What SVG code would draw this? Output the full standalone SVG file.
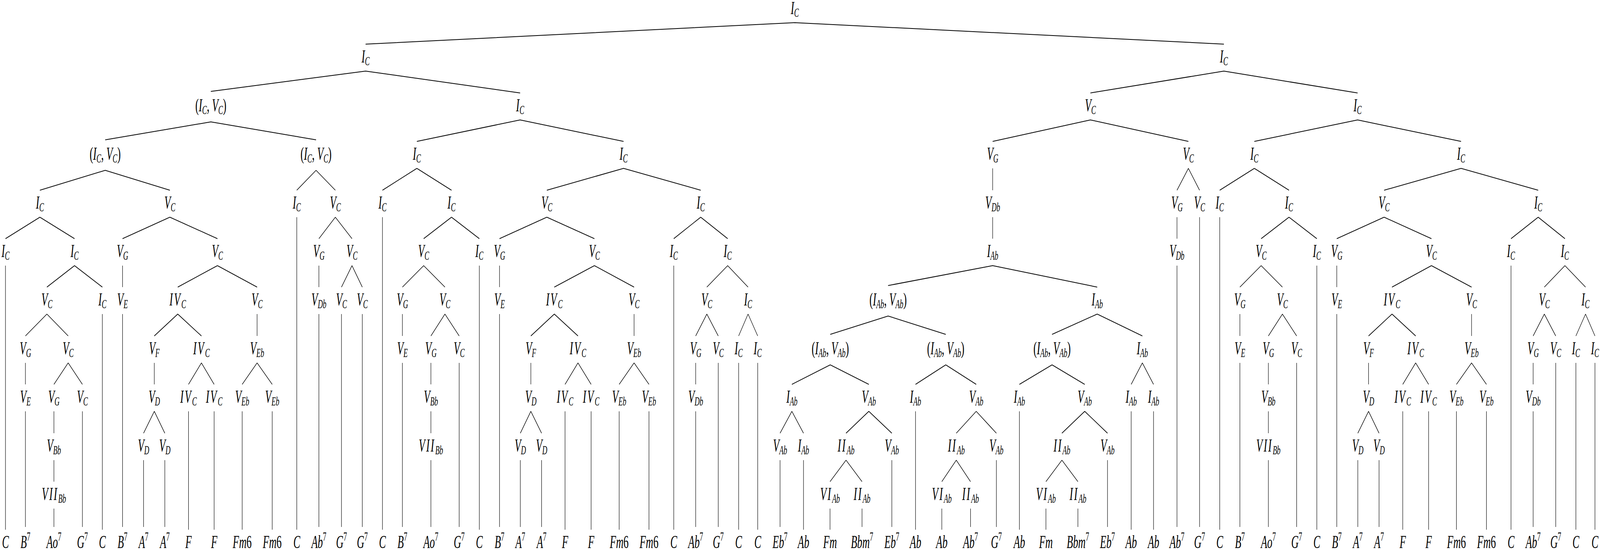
<svg xmlns="http://www.w3.org/2000/svg" width="7300" height="1408" viewBox="0 0 7300 1408" preserveAspectRatio="none" style="width:100vw;height:100vh">
<style>
text{font-family:"Liberation Serif","Times New Roman",serif;font-style:italic;font-size:47px;text-anchor:middle;fill:#000}
.s{font-size:32px}
.u{font-style:normal}
.p{font-size:32px;font-style:normal}
.r{letter-spacing:5px}
#edges path{stroke:#000;stroke-width:2;fill:none}
</style>
<rect width="7300" height="1408" fill="#fff"/>
<g id="edges">
<path d="M3626 58L1668 113M3626 58L5584 113"/>
<path d="M1668 182L962 234M1668 182L2373 238"/>
<path d="M962 312L480 358M962 312L1442 358"/>
<path d="M480 436L182 487M480 436L775 487"/>
<path d="M182 556L25 611M182 556L340 611M25 680L25 1356"/>
<path d="M340 680L214 735M340 680L467 735M467 804L467 1356"/>
<path d="M214 804L116 860M214 804L311 860M116 929L116 984M116 1053L116 1349"/>
<path d="M311 929L246 984M311 929L376 984M246 1053L246 1109M246 1178L246 1233M246 1302L246 1349M376 1053L376 1349"/>
<path d="M775 556L559 611M775 556L992 611M559 680L559 735M559 804L559 1349"/>
<path d="M992 680L811 735M992 680L1173 735M811 804L704 860M811 804L919 860M704 929L704 984M704 1053L655 1109M704 1053L752 1109M655 1178L655 1349M752 1178L752 1349"/>
<path d="M919 929L860 984M919 929L977 984M860 1053L860 1356M977 1053L977 1356"/>
<path d="M1173 804L1173 860M1173 929L1105 984M1173 929L1242 984M1105 1053L1105 1356M1242 1053L1242 1356"/>
<path d="M1442 436L1354 487M1442 436L1530 487M1354 556L1354 1356M1530 556L1455 611M1530 556L1606 611M1455 680L1455 735M1455 804L1455 1349M1606 680L1558 735M1606 680L1653 735M1558 804L1558 1349M1653 804L1653 1349"/>
<path d="M2373 307L1902 362M2373 307L2845 362M1902 431L1745 487M1902 431L2060 487M1745 556L1745 1356M2060 556L1933 611M2060 556L2187 611M2187 680L2187 1356"/>
<path d="M1933 680L1836 735M1933 680L2030 735M1836 804L1836 860M1836 929L1836 1349M2030 804L1966 860M2030 804L2095 860M1966 929L1966 984M1966 1053L1966 1109M1966 1178L1966 1349M2095 929L2095 1349"/>
<path d="M2845 431L2495 487M2845 431L3197 487M2495 556L2279 611M2495 556L2712 611M2279 680L2279 735M2279 804L2279 1349M2712 680L2529 735M2712 680L2893 735"/>
<path d="M2529 804L2422 860M2529 804L2637 860M2422 929L2422 984M2422 1053L2374 1109M2422 1053L2471 1109M2374 1178L2374 1349M2471 1178L2471 1349M2637 929L2578 984M2637 929L2697 984M2578 1053L2578 1356M2697 1053L2697 1356"/>
<path d="M2893 804L2893 860M2893 929L2825 984M2893 929L2961 984M2825 1053L2825 1356M2961 1053L2961 1356"/>
<path d="M3197 556L3074 611M3197 556L3320 611M3074 680L3074 1356M3320 680L3225 735M3320 680L3413 735M3225 804L3174 860M3225 804L3277 860M3174 929L3174 984M3174 1053L3174 1349M3277 929L3277 1349M3413 804L3370 860M3413 804L3457 860M3370 929L3370 1356M3457 929L3457 1356"/>
<path d="M5584 182L4975 238M5584 182L6194 238M4975 307L4529 362M4975 307L5422 362M4529 431L4529 487M4529 556L4529 611M4529 680L4052 731M4529 680L5006 735"/>
<path d="M4052 809L3788 856M4052 809L4315 856M3788 934L3613 984M3788 934L3964 984M3613 1053L3559 1109M3613 1053L3666 1109M3559 1178L3559 1349M3666 1178L3666 1356"/>
<path d="M3964 1053L3860 1109M3964 1053L4069 1109M3860 1178L3787 1233M3860 1178L3933 1233M3787 1302L3787 1356M3933 1302L3933 1349M4069 1178L4069 1349"/>
<path d="M4315 934L4177 984M4315 934L4454 984M4177 1053L4177 1356M4454 1053L4363 1109M4454 1053L4546 1109M4363 1178L4297 1233M4363 1178L4428 1233M4297 1302L4297 1356M4428 1302L4428 1349M4546 1178L4546 1349"/>
<path d="M5006 804L4800 856M5006 804L5212 860M4800 934L4651 984M4800 934L4949 984M4651 1053L4651 1356M4949 1053L4845 1109M4949 1053L5053 1109M4845 1178L4772 1233M4845 1178L4918 1233M4772 1302L4772 1356M4918 1302L4918 1349M5053 1178L5053 1349"/>
<path d="M5212 929L5161 984M5212 929L5263 984M5161 1053L5161 1356M5263 1053L5263 1356"/>
<path d="M5422 431L5370 487M5422 431L5473 487M5370 556L5370 611M5370 680L5370 1349M5473 556L5473 1349"/>
<path d="M6194 307L5723 362M6194 307L6666 362M5723 431L5565 487M5723 431L5881 487M5565 556L5565 1356M5881 556L5754 611M5881 556L6008 611M6008 680L6008 1356"/>
<path d="M5754 680L5657 735M5754 680L5851 735M5657 804L5657 860M5657 929L5657 1349M5851 804L5787 860M5851 804L5916 860M5787 929L5787 984M5787 1053L5787 1109M5787 1178L5787 1349M5916 929L5916 1349"/>
<path d="M6666 431L6315 487M6666 431L7018 487M6315 556L6099 611M6315 556L6531 611M6099 680L6099 735M6099 804L6099 1349M6531 680L6351 735M6531 680L6714 735"/>
<path d="M6351 804L6244 860M6351 804L6459 860M6244 929L6244 984M6244 1053L6195 1109M6244 1053L6292 1109M6195 1178L6195 1349M6292 1178L6292 1349M6459 929L6400 984M6459 929L6518 984M6400 1053L6400 1356M6518 1053L6518 1356"/>
<path d="M6714 804L6714 860M6714 929L6645 984M6714 929L6782 984M6645 1053L6645 1356M6782 1053L6782 1356"/>
<path d="M7018 556L6894 611M7018 556L7140 611M6894 680L6894 1356M7140 680L7046 735M7140 680L7234 735M7046 804L6995 860M7046 804L7098 860M6995 929L6995 984M6995 1053L6995 1349M7098 929L7098 1349M7234 804L7190 860M7234 804L7277 860M7190 929L7190 1356M7277 929L7277 1356"/>
</g>
<g id="n0"><text x="3626" y="36">I<tspan class="s" dy="7">C</tspan></text></g>
<g id="n1"><text x="1668" y="160">I<tspan class="s" dy="7">C</tspan></text></g>
<g id="n2"><text x="5584" y="160">I<tspan class="s" dy="7">C</tspan></text></g>
<g id="n3"><text x="962" y="285"><tspan class="u">(</tspan>I<tspan class="s" dy="7">C</tspan><tspan class="u" dy="-7">, </tspan>V<tspan class="s" dy="7">C</tspan><tspan class="u" dy="-7">)</tspan></text></g>
<g id="n4"><text x="2373" y="285">I<tspan class="s" dy="7">C</tspan></text></g>
<g id="n5"><text x="480" y="409"><tspan class="u">(</tspan>I<tspan class="s" dy="7">C</tspan><tspan class="u" dy="-7">, </tspan>V<tspan class="s" dy="7">C</tspan><tspan class="u" dy="-7">)</tspan></text></g>
<g id="n6"><text x="1442" y="409"><tspan class="u">(</tspan>I<tspan class="s" dy="7">C</tspan><tspan class="u" dy="-7">, </tspan>V<tspan class="s" dy="7">C</tspan><tspan class="u" dy="-7">)</tspan></text></g>
<g id="n7"><text x="182" y="534">I<tspan class="s" dy="7">C</tspan></text></g>
<g id="n8"><text x="775" y="534">V<tspan class="s" dy="7">C</tspan></text></g>
<g id="n9"><text x="25" y="658">I<tspan class="s" dy="7">C</tspan></text></g>
<g id="n10"><text x="340" y="658">I<tspan class="s" dy="7">C</tspan></text></g>
<g id="n11"><text x="214" y="782">V<tspan class="s" dy="7">C</tspan></text></g>
<g id="n12"><text x="467" y="782">I<tspan class="s" dy="7">C</tspan></text></g>
<g id="n13"><text x="116" y="907">V<tspan class="s" dy="7">G</tspan></text></g>
<g id="n14"><text x="116" y="1031">V<tspan class="s" dy="7">E</tspan></text></g>
<g id="n15"><text x="311" y="907">V<tspan class="s" dy="7">C</tspan></text></g>
<g id="n16"><text x="246" y="1031">V<tspan class="s" dy="7">G</tspan></text></g>
<g id="n17"><text x="246" y="1156">V<tspan class="s" dy="7">Bb</tspan></text></g>
<g id="n18"><text x="246" y="1280"><tspan class="r">VII</tspan><tspan class="s" dy="7">Bb</tspan></text></g>
<g id="n19"><text x="376" y="1031">V<tspan class="s" dy="7">C</tspan></text></g>
<g id="n20"><text x="559" y="658">V<tspan class="s" dy="7">G</tspan></text></g>
<g id="n21"><text x="559" y="782">V<tspan class="s" dy="7">E</tspan></text></g>
<g id="n22"><text x="992" y="658">V<tspan class="s" dy="7">C</tspan></text></g>
<g id="n23"><text x="811" y="782"><tspan class="r">IV</tspan><tspan class="s" dy="7">C</tspan></text></g>
<g id="n24"><text x="1173" y="782">V<tspan class="s" dy="7">C</tspan></text></g>
<g id="n25"><text x="1173" y="907">V<tspan class="s" dy="7">Eb</tspan></text></g>
<g id="n26"><text x="704" y="907">V<tspan class="s" dy="7">F</tspan></text></g>
<g id="n27"><text x="704" y="1031">V<tspan class="s" dy="7">D</tspan></text></g>
<g id="n28"><text x="655" y="1156">V<tspan class="s" dy="7">D</tspan></text></g>
<g id="n29"><text x="752" y="1156">V<tspan class="s" dy="7">D</tspan></text></g>
<g id="n30"><text x="919" y="907"><tspan class="r">IV</tspan><tspan class="s" dy="7">C</tspan></text></g>
<g id="n31"><text x="860" y="1031"><tspan class="r">IV</tspan><tspan class="s" dy="7">C</tspan></text></g>
<g id="n32"><text x="977" y="1031"><tspan class="r">IV</tspan><tspan class="s" dy="7">C</tspan></text></g>
<g id="n33"><text x="1105" y="1031">V<tspan class="s" dy="7">Eb</tspan></text></g>
<g id="n34"><text x="1242" y="1031">V<tspan class="s" dy="7">Eb</tspan></text></g>
<g id="n35"><text x="1354" y="534">I<tspan class="s" dy="7">C</tspan></text></g>
<g id="n36"><text x="1530" y="534">V<tspan class="s" dy="7">C</tspan></text></g>
<g id="n37"><text x="1455" y="658">V<tspan class="s" dy="7">G</tspan></text></g>
<g id="n38"><text x="1455" y="782">V<tspan class="s" dy="7">Db</tspan></text></g>
<g id="n39"><text x="1606" y="658">V<tspan class="s" dy="7">C</tspan></text></g>
<g id="n40"><text x="1558" y="782">V<tspan class="s" dy="7">C</tspan></text></g>
<g id="n41"><text x="1653" y="782">V<tspan class="s" dy="7">C</tspan></text></g>
<g id="n42"><text x="1902" y="409">I<tspan class="s" dy="7">C</tspan></text></g>
<g id="n43"><text x="2845" y="409">I<tspan class="s" dy="7">C</tspan></text></g>
<g id="n44"><text x="1745" y="534">I<tspan class="s" dy="7">C</tspan></text></g>
<g id="n45"><text x="2060" y="534">I<tspan class="s" dy="7">C</tspan></text></g>
<g id="n46"><text x="1933" y="658">V<tspan class="s" dy="7">C</tspan></text></g>
<g id="n47"><text x="1836" y="782">V<tspan class="s" dy="7">G</tspan></text></g>
<g id="n48"><text x="1836" y="907">V<tspan class="s" dy="7">E</tspan></text></g>
<g id="n49"><text x="2030" y="782">V<tspan class="s" dy="7">C</tspan></text></g>
<g id="n50"><text x="1966" y="907">V<tspan class="s" dy="7">G</tspan></text></g>
<g id="n51"><text x="1966" y="1031">V<tspan class="s" dy="7">Bb</tspan></text></g>
<g id="n52"><text x="1966" y="1156"><tspan class="r">VII</tspan><tspan class="s" dy="7">Bb</tspan></text></g>
<g id="n53"><text x="2095" y="907">V<tspan class="s" dy="7">C</tspan></text></g>
<g id="n54"><text x="2187" y="658">I<tspan class="s" dy="7">C</tspan></text></g>
<g id="n55"><text x="2495" y="534">V<tspan class="s" dy="7">C</tspan></text></g>
<g id="n56"><text x="2279" y="658">V<tspan class="s" dy="7">G</tspan></text></g>
<g id="n57"><text x="2279" y="782">V<tspan class="s" dy="7">E</tspan></text></g>
<g id="n58"><text x="2712" y="658">V<tspan class="s" dy="7">C</tspan></text></g>
<g id="n59"><text x="2529" y="782"><tspan class="r">IV</tspan><tspan class="s" dy="7">C</tspan></text></g>
<g id="n60"><text x="2422" y="907">V<tspan class="s" dy="7">F</tspan></text></g>
<g id="n61"><text x="2422" y="1031">V<tspan class="s" dy="7">D</tspan></text></g>
<g id="n62"><text x="2374" y="1156">V<tspan class="s" dy="7">D</tspan></text></g>
<g id="n63"><text x="2471" y="1156">V<tspan class="s" dy="7">D</tspan></text></g>
<g id="n64"><text x="2637" y="907"><tspan class="r">IV</tspan><tspan class="s" dy="7">C</tspan></text></g>
<g id="n65"><text x="2578" y="1031"><tspan class="r">IV</tspan><tspan class="s" dy="7">C</tspan></text></g>
<g id="n66"><text x="2697" y="1031"><tspan class="r">IV</tspan><tspan class="s" dy="7">C</tspan></text></g>
<g id="n67"><text x="2893" y="782">V<tspan class="s" dy="7">C</tspan></text></g>
<g id="n68"><text x="2893" y="907">V<tspan class="s" dy="7">Eb</tspan></text></g>
<g id="n69"><text x="2825" y="1031">V<tspan class="s" dy="7">Eb</tspan></text></g>
<g id="n70"><text x="2961" y="1031">V<tspan class="s" dy="7">Eb</tspan></text></g>
<g id="n71"><text x="3197" y="534">I<tspan class="s" dy="7">C</tspan></text></g>
<g id="n72"><text x="3074" y="658">I<tspan class="s" dy="7">C</tspan></text></g>
<g id="n73"><text x="3320" y="658">I<tspan class="s" dy="7">C</tspan></text></g>
<g id="n74"><text x="3225" y="782">V<tspan class="s" dy="7">C</tspan></text></g>
<g id="n75"><text x="3174" y="907">V<tspan class="s" dy="7">G</tspan></text></g>
<g id="n76"><text x="3174" y="1031">V<tspan class="s" dy="7">Db</tspan></text></g>
<g id="n77"><text x="3277" y="907">V<tspan class="s" dy="7">C</tspan></text></g>
<g id="n78"><text x="3413" y="782">I<tspan class="s" dy="7">C</tspan></text></g>
<g id="n79"><text x="3370" y="907">I<tspan class="s" dy="7">C</tspan></text></g>
<g id="n80"><text x="3457" y="907">I<tspan class="s" dy="7">C</tspan></text></g>
<g id="n81"><text x="4975" y="285">V<tspan class="s" dy="7">C</tspan></text></g>
<g id="n82"><text x="6194" y="285">I<tspan class="s" dy="7">C</tspan></text></g>
<g id="n83"><text x="4529" y="409">V<tspan class="s" dy="7">G</tspan></text></g>
<g id="n84"><text x="4529" y="534">V<tspan class="s" dy="7">Db</tspan></text></g>
<g id="n85"><text x="4529" y="658">I<tspan class="s" dy="7">Ab</tspan></text></g>
<g id="n86"><text x="4052" y="782"><tspan class="u">(</tspan>I<tspan class="s" dy="7">Ab</tspan><tspan class="u" dy="-7">, </tspan>V<tspan class="s" dy="7">Ab</tspan><tspan class="u" dy="-7">)</tspan></text></g>
<g id="n87"><text x="3788" y="907"><tspan class="u">(</tspan>I<tspan class="s" dy="7">Ab</tspan><tspan class="u" dy="-7">, </tspan>V<tspan class="s" dy="7">Ab</tspan><tspan class="u" dy="-7">)</tspan></text></g>
<g id="n88"><text x="3613" y="1031">I<tspan class="s" dy="7">Ab</tspan></text></g>
<g id="n89"><text x="3559" y="1156">V<tspan class="s" dy="7">Ab</tspan></text></g>
<g id="n90"><text x="3666" y="1156">I<tspan class="s" dy="7">Ab</tspan></text></g>
<g id="n91"><text x="3964" y="1031">V<tspan class="s" dy="7">Ab</tspan></text></g>
<g id="n92"><text x="3860" y="1156"><tspan class="r">II</tspan><tspan class="s" dy="7">Ab</tspan></text></g>
<g id="n93"><text x="3787" y="1280"><tspan class="r">VI</tspan><tspan class="s" dy="7">Ab</tspan></text></g>
<g id="n94"><text x="3933" y="1280"><tspan class="r">II</tspan><tspan class="s" dy="7">Ab</tspan></text></g>
<g id="n95"><text x="4069" y="1156">V<tspan class="s" dy="7">Ab</tspan></text></g>
<g id="n96"><text x="4315" y="907"><tspan class="u">(</tspan>I<tspan class="s" dy="7">Ab</tspan><tspan class="u" dy="-7">, </tspan>V<tspan class="s" dy="7">Ab</tspan><tspan class="u" dy="-7">)</tspan></text></g>
<g id="n97"><text x="4177" y="1031">I<tspan class="s" dy="7">Ab</tspan></text></g>
<g id="n98"><text x="4454" y="1031">V<tspan class="s" dy="7">Ab</tspan></text></g>
<g id="n99"><text x="4363" y="1156"><tspan class="r">II</tspan><tspan class="s" dy="7">Ab</tspan></text></g>
<g id="n100"><text x="4297" y="1280"><tspan class="r">VI</tspan><tspan class="s" dy="7">Ab</tspan></text></g>
<g id="n101"><text x="4428" y="1280"><tspan class="r">II</tspan><tspan class="s" dy="7">Ab</tspan></text></g>
<g id="n102"><text x="4546" y="1156">V<tspan class="s" dy="7">Ab</tspan></text></g>
<g id="n103"><text x="5006" y="782">I<tspan class="s" dy="7">Ab</tspan></text></g>
<g id="n104"><text x="4800" y="907"><tspan class="u">(</tspan>I<tspan class="s" dy="7">Ab</tspan><tspan class="u" dy="-7">, </tspan>V<tspan class="s" dy="7">Ab</tspan><tspan class="u" dy="-7">)</tspan></text></g>
<g id="n105"><text x="4651" y="1031">I<tspan class="s" dy="7">Ab</tspan></text></g>
<g id="n106"><text x="4949" y="1031">V<tspan class="s" dy="7">Ab</tspan></text></g>
<g id="n107"><text x="4845" y="1156"><tspan class="r">II</tspan><tspan class="s" dy="7">Ab</tspan></text></g>
<g id="n108"><text x="4772" y="1280"><tspan class="r">VI</tspan><tspan class="s" dy="7">Ab</tspan></text></g>
<g id="n109"><text x="4918" y="1280"><tspan class="r">II</tspan><tspan class="s" dy="7">Ab</tspan></text></g>
<g id="n110"><text x="5053" y="1156">V<tspan class="s" dy="7">Ab</tspan></text></g>
<g id="n111"><text x="5212" y="907">I<tspan class="s" dy="7">Ab</tspan></text></g>
<g id="n112"><text x="5161" y="1031">I<tspan class="s" dy="7">Ab</tspan></text></g>
<g id="n113"><text x="5263" y="1031">I<tspan class="s" dy="7">Ab</tspan></text></g>
<g id="n114"><text x="5422" y="409">V<tspan class="s" dy="7">C</tspan></text></g>
<g id="n115"><text x="5370" y="534">V<tspan class="s" dy="7">G</tspan></text></g>
<g id="n116"><text x="5370" y="658">V<tspan class="s" dy="7">Db</tspan></text></g>
<g id="n117"><text x="5473" y="534">V<tspan class="s" dy="7">C</tspan></text></g>
<g id="n118"><text x="5723" y="409">I<tspan class="s" dy="7">C</tspan></text></g>
<g id="n119"><text x="5565" y="534">I<tspan class="s" dy="7">C</tspan></text></g>
<g id="n120"><text x="5881" y="534">I<tspan class="s" dy="7">C</tspan></text></g>
<g id="n121"><text x="5754" y="658">V<tspan class="s" dy="7">C</tspan></text></g>
<g id="n122"><text x="5657" y="782">V<tspan class="s" dy="7">G</tspan></text></g>
<g id="n123"><text x="5657" y="907">V<tspan class="s" dy="7">E</tspan></text></g>
<g id="n124"><text x="5851" y="782">V<tspan class="s" dy="7">C</tspan></text></g>
<g id="n125"><text x="5787" y="907">V<tspan class="s" dy="7">G</tspan></text></g>
<g id="n126"><text x="5787" y="1031">V<tspan class="s" dy="7">Bb</tspan></text></g>
<g id="n127"><text x="5787" y="1156"><tspan class="r">VII</tspan><tspan class="s" dy="7">Bb</tspan></text></g>
<g id="n128"><text x="5916" y="907">V<tspan class="s" dy="7">C</tspan></text></g>
<g id="n129"><text x="6008" y="658">I<tspan class="s" dy="7">C</tspan></text></g>
<g id="n130"><text x="6666" y="409">I<tspan class="s" dy="7">C</tspan></text></g>
<g id="n131"><text x="6315" y="534">V<tspan class="s" dy="7">C</tspan></text></g>
<g id="n132"><text x="6099" y="658">V<tspan class="s" dy="7">G</tspan></text></g>
<g id="n133"><text x="6099" y="782">V<tspan class="s" dy="7">E</tspan></text></g>
<g id="n134"><text x="6531" y="658">V<tspan class="s" dy="7">C</tspan></text></g>
<g id="n135"><text x="6351" y="782"><tspan class="r">IV</tspan><tspan class="s" dy="7">C</tspan></text></g>
<g id="n136"><text x="6244" y="907">V<tspan class="s" dy="7">F</tspan></text></g>
<g id="n137"><text x="6244" y="1031">V<tspan class="s" dy="7">D</tspan></text></g>
<g id="n138"><text x="6195" y="1156">V<tspan class="s" dy="7">D</tspan></text></g>
<g id="n139"><text x="6292" y="1156">V<tspan class="s" dy="7">D</tspan></text></g>
<g id="n140"><text x="6459" y="907"><tspan class="r">IV</tspan><tspan class="s" dy="7">C</tspan></text></g>
<g id="n141"><text x="6400" y="1031"><tspan class="r">IV</tspan><tspan class="s" dy="7">C</tspan></text></g>
<g id="n142"><text x="6518" y="1031"><tspan class="r">IV</tspan><tspan class="s" dy="7">C</tspan></text></g>
<g id="n143"><text x="6714" y="782">V<tspan class="s" dy="7">C</tspan></text></g>
<g id="n144"><text x="6714" y="907">V<tspan class="s" dy="7">Eb</tspan></text></g>
<g id="n145"><text x="6645" y="1031">V<tspan class="s" dy="7">Eb</tspan></text></g>
<g id="n146"><text x="6782" y="1031">V<tspan class="s" dy="7">Eb</tspan></text></g>
<g id="n147"><text x="7018" y="534">I<tspan class="s" dy="7">C</tspan></text></g>
<g id="n148"><text x="6894" y="658">I<tspan class="s" dy="7">C</tspan></text></g>
<g id="n149"><text x="7140" y="658">I<tspan class="s" dy="7">C</tspan></text></g>
<g id="n150"><text x="7046" y="782">V<tspan class="s" dy="7">C</tspan></text></g>
<g id="n151"><text x="6995" y="907">V<tspan class="s" dy="7">G</tspan></text></g>
<g id="n152"><text x="6995" y="1031">V<tspan class="s" dy="7">Db</tspan></text></g>
<g id="n153"><text x="7098" y="907">V<tspan class="s" dy="7">C</tspan></text></g>
<g id="n154"><text x="7234" y="782">I<tspan class="s" dy="7">C</tspan></text></g>
<g id="n155"><text x="7190" y="907">I<tspan class="s" dy="7">C</tspan></text></g>
<g id="n156"><text x="7277" y="907">I<tspan class="s" dy="7">C</tspan></text></g>
<g id="leaves">
<g id="l1"><text x="25" y="1403">C</text></g>
<g id="l2"><text x="116" y="1403">B<tspan class="p" dy="-19">7</tspan></text></g>
<g id="l3"><text x="246" y="1403">Ao<tspan class="p" dy="-19">7</tspan></text></g>
<g id="l4"><text x="376" y="1403">G<tspan class="p" dy="-19">7</tspan></text></g>
<g id="l5"><text x="467" y="1403">C</text></g>
<g id="l6"><text x="559" y="1403">B<tspan class="p" dy="-19">7</tspan></text></g>
<g id="l7"><text x="655" y="1403">A<tspan class="p" dy="-19">7</tspan></text></g>
<g id="l8"><text x="752" y="1403">A<tspan class="p" dy="-19">7</tspan></text></g>
<g id="l9"><text x="860" y="1403">F</text></g>
<g id="l10"><text x="977" y="1403">F</text></g>
<g id="l11"><text x="1105" y="1403">Fm<tspan class="u">6</tspan></text></g>
<g id="l12"><text x="1242" y="1403">Fm<tspan class="u">6</tspan></text></g>
<g id="l13"><text x="1354" y="1403">C</text></g>
<g id="l14"><text x="1455" y="1403">Ab<tspan class="p" dy="-19">7</tspan></text></g>
<g id="l15"><text x="1558" y="1403">G<tspan class="p" dy="-19">7</tspan></text></g>
<g id="l16"><text x="1653" y="1403">G<tspan class="p" dy="-19">7</tspan></text></g>
<g id="l17"><text x="1745" y="1403">C</text></g>
<g id="l18"><text x="1836" y="1403">B<tspan class="p" dy="-19">7</tspan></text></g>
<g id="l19"><text x="1966" y="1403">Ao<tspan class="p" dy="-19">7</tspan></text></g>
<g id="l20"><text x="2095" y="1403">G<tspan class="p" dy="-19">7</tspan></text></g>
<g id="l21"><text x="2187" y="1403">C</text></g>
<g id="l22"><text x="2279" y="1403">B<tspan class="p" dy="-19">7</tspan></text></g>
<g id="l23"><text x="2374" y="1403">A<tspan class="p" dy="-19">7</tspan></text></g>
<g id="l24"><text x="2471" y="1403">A<tspan class="p" dy="-19">7</tspan></text></g>
<g id="l25"><text x="2578" y="1403">F</text></g>
<g id="l26"><text x="2697" y="1403">F</text></g>
<g id="l27"><text x="2825" y="1403">Fm<tspan class="u">6</tspan></text></g>
<g id="l28"><text x="2961" y="1403">Fm<tspan class="u">6</tspan></text></g>
<g id="l29"><text x="3074" y="1403">C</text></g>
<g id="l30"><text x="3174" y="1403">Ab<tspan class="p" dy="-19">7</tspan></text></g>
<g id="l31"><text x="3277" y="1403">G<tspan class="p" dy="-19">7</tspan></text></g>
<g id="l32"><text x="3370" y="1403">C</text></g>
<g id="l33"><text x="3457" y="1403">C</text></g>
<g id="l34"><text x="3559" y="1403">Eb<tspan class="p" dy="-19">7</tspan></text></g>
<g id="l35"><text x="3666" y="1403">Ab</text></g>
<g id="l36"><text x="3787" y="1403">Fm</text></g>
<g id="l37"><text x="3933" y="1403">Bbm<tspan class="p" dy="-19">7</tspan></text></g>
<g id="l38"><text x="4069" y="1403">Eb<tspan class="p" dy="-19">7</tspan></text></g>
<g id="l39"><text x="4177" y="1403">Ab</text></g>
<g id="l40"><text x="4297" y="1403">Ab</text></g>
<g id="l41"><text x="4428" y="1403">Ab<tspan class="p" dy="-19">7</tspan></text></g>
<g id="l42"><text x="4546" y="1403">G<tspan class="p" dy="-19">7</tspan></text></g>
<g id="l43"><text x="4651" y="1403">Ab</text></g>
<g id="l44"><text x="4772" y="1403">Fm</text></g>
<g id="l45"><text x="4918" y="1403">Bbm<tspan class="p" dy="-19">7</tspan></text></g>
<g id="l46"><text x="5053" y="1403">Eb<tspan class="p" dy="-19">7</tspan></text></g>
<g id="l47"><text x="5161" y="1403">Ab</text></g>
<g id="l48"><text x="5263" y="1403">Ab</text></g>
<g id="l49"><text x="5370" y="1403">Ab<tspan class="p" dy="-19">7</tspan></text></g>
<g id="l50"><text x="5473" y="1403">G<tspan class="p" dy="-19">7</tspan></text></g>
<g id="l51"><text x="5565" y="1403">C</text></g>
<g id="l52"><text x="5657" y="1403">B<tspan class="p" dy="-19">7</tspan></text></g>
<g id="l53"><text x="5787" y="1403">Ao<tspan class="p" dy="-19">7</tspan></text></g>
<g id="l54"><text x="5916" y="1403">G<tspan class="p" dy="-19">7</tspan></text></g>
<g id="l55"><text x="6008" y="1403">C</text></g>
<g id="l56"><text x="6099" y="1403">B<tspan class="p" dy="-19">7</tspan></text></g>
<g id="l57"><text x="6195" y="1403">A<tspan class="p" dy="-19">7</tspan></text></g>
<g id="l58"><text x="6292" y="1403">A<tspan class="p" dy="-19">7</tspan></text></g>
<g id="l59"><text x="6400" y="1403">F</text></g>
<g id="l60"><text x="6518" y="1403">F</text></g>
<g id="l61"><text x="6645" y="1403">Fm<tspan class="u">6</tspan></text></g>
<g id="l62"><text x="6782" y="1403">Fm<tspan class="u">6</tspan></text></g>
<g id="l63"><text x="6894" y="1403">C</text></g>
<g id="l64"><text x="6995" y="1403">Ab<tspan class="p" dy="-19">7</tspan></text></g>
<g id="l65"><text x="7098" y="1403">G<tspan class="p" dy="-19">7</tspan></text></g>
<g id="l66"><text x="7190" y="1403">C</text></g>
<g id="l67"><text x="7277" y="1403">C</text></g>
</g>
</svg>
